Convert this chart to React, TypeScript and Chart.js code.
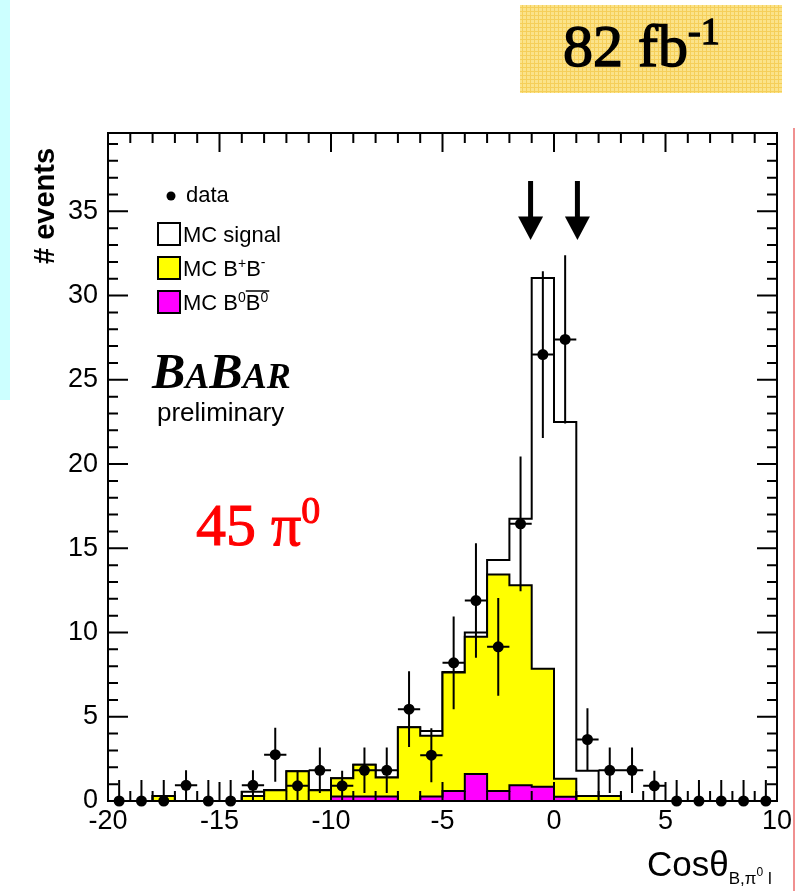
import React, { useEffect, useRef } from 'react';
import { Chart, registerables } from 'chart.js';

Chart.register(...registerables);

// ---- data ----
const binEdges = [-20, -19, -18, -17, -16, -15, -14, -13, -12, -11, -10, -9, -8, -7, -6, -5, -4, -3, -2, -1, 0, 1, 2, 3, 4, 5, 6, 7, 8, 9, 10];

// MC signal stacked on backgrounds (outline, white)
const mcTotal = [0, 0, 0.3, 0, 0, 0, 0.55, 0.66, 1.77, 0.66, 1.35, 2.15, 1.4, 4.38, 4.15, 7.65, 10.0, 14.3, 16.75, 31.05, 22.5, 1.8, 0.3, 0, 0, 0, 0, 0, 0, 0];
// MC B+B- stacked on B0B0bar (yellow)
const mcCharged = [0, 0, 0.3, 0, 0, 0, 0.3, 0.64, 1.77, 0.64, 1.35, 2.15, 1.4, 4.38, 3.87, 7.62, 9.75, 13.45, 12.8, 7.85, 1.32, 0.29, 0.29, 0, 0, 0, 0, 0, 0, 0];
// MC B0B0bar (magenta)
const mcNeutral = [0, 0, 0, 0, 0, 0, 0, 0, 0, 0, 0.27, 0.27, 0.27, 0, 0.27, 0.6, 1.6, 0.6, 0.93, 0.85, 0.25, 0, 0, 0, 0, 0, 0, 0, 0, 0];

const dataX = [-19.5, -18.5, -17.5, -16.5, -15.5, -14.5, -13.5, -12.5, -11.5, -10.5, -9.5, -8.5, -7.5, -6.5, -5.5, -4.5, -3.5, -2.5, -1.5, -0.5, 0.5, 1.5, 2.5, 3.5, 4.5, 5.5, 6.5, 7.5, 8.5, 9.5];
const dataY = [0, 0, 0, 0.93, 0, 0, 0.93, 2.75, 0.9, 1.82, 0.9, 1.82, 1.82, 5.45, 2.72, 8.2, 11.9, 9.15, 16.45, 26.5, 27.4, 3.65, 1.82, 1.82, 0.9, 0, 0, 0, 0, 0];
const dataErrUp = [1.25, 1.25, 1.25, 0.9, 1.25, 1.25, 0.9, 1.6, 0.9, 1.35, 0.9, 1.35, 1.35, 2.25, 1.6, 2.75, 3.4, 2.9, 4.0, 4.95, 5.0, 1.85, 1.35, 1.35, 0.9, 1.25, 1.25, 1.25, 1.25, 1.25];
const dataErrDown = [0, 0, 0, 0.9, 0, 0, 0.9, 1.6, 0.9, 1.35, 0.9, 1.35, 1.35, 2.25, 1.6, 2.75, 3.4, 2.9, 4.0, 4.95, 5.0, 1.85, 1.35, 1.35, 0.9, 0, 0, 0, 0, 0];
const dataXErr = 0.5;

const xTicks = [-20, -15, -10, -5, 0, 5, 10];
const yTicks = [0, 5, 10, 15, 20, 25, 30, 35];
const xMin = -20;
const xMax = 10;
const yMin = 0;
const yMax = 39.65;

const arrowX = [-1.05, 1.05];
const arrowTop = 36.8;
const arrowHeadBase = 34.7;
const arrowTip = 33.3;

const SANS = '"Liberation Sans", Arial, Helvetica, sans-serif';
const SERIF = '"Liberation Serif", "Times New Roman", serif';

function stepPoints(vals: number[]) {
  const pts: { x: number; y: number }[] = [{ x: binEdges[0], y: 0 }];
  vals.forEach((v, i) => pts.push({ x: binEdges[i], y: v }));
  pts.push({ x: binEdges[binEdges.length - 1], y: vals[vals.length - 1] });
  pts.push({ x: binEdges[binEdges.length - 1], y: 0 });
  return pts;
}

function drawRich(ctx: CanvasRenderingContext2D, x: number, y: number, parts: { t: string; size: number; dy?: number }[], family: string, weight = '', strokeW = 0) {
  let cx = x;
  for (const p of parts) {
    ctx.font = `${weight} ${p.size}px ${family}`.trim();
    ctx.fillText(p.t, cx, y + (p.dy || 0));
    if (strokeW > 0) {
      ctx.save();
      ctx.lineWidth = strokeW;
      ctx.strokeStyle = ctx.fillStyle as string;
      ctx.strokeText(p.t, cx, y + (p.dy || 0));
      ctx.restore();
    }
    cx += ctx.measureText(p.t).width;
  }
  return cx;
}

const decor = {
  id: 'decor',
  beforeDraw(chart: any) {
    const ctx: CanvasRenderingContext2D = chart.ctx;
    ctx.save();
    ctx.fillStyle = '#ffffff';
    ctx.fillRect(0, 0, chart.width, chart.height);
    // cyan strip on the left
    ctx.fillStyle = '#ccffff';
    ctx.fillRect(0, 0, 10, 400);
    // faint red line at right
    ctx.strokeStyle = '#f09090';
    ctx.lineWidth = 2;
    ctx.beginPath();
    ctx.moveTo(794, 128);
    ctx.lineTo(794, 891);
    ctx.stroke();
    // luminosity box
    const bx = 520, by = 5, bw = 262, bh = 88;
    ctx.fillStyle = '#fbe38a';
    ctx.fillRect(bx, by, bw, bh);
    ctx.strokeStyle = '#f5cf5a';
    ctx.lineWidth = 1;
    ctx.beginPath();
    for (let gx = bx + 2; gx < bx + bw; gx += 4) {
      ctx.moveTo(gx + 0.5, by);
      ctx.lineTo(gx + 0.5, by + bh);
    }
    for (let gy = by + 2; gy < by + bh; gy += 4) {
      ctx.moveTo(bx, gy + 0.5);
      ctx.lineTo(bx + bw, gy + 0.5);
    }
    ctx.stroke();
    ctx.fillStyle = '#000';
    ctx.textBaseline = 'alphabetic';
    ctx.textAlign = 'left';
    drawRich(ctx, 563, 66, [
      { t: '82 fb', size: 60 },
      { t: '-1', size: 38, dy: -22 },
    ], SERIF, '', 1.4);
    ctx.restore();
  },
  afterDatasetsDraw(chart: any) {
    const ctx: CanvasRenderingContext2D = chart.ctx;
    const xs = chart.scales.x;
    const ys = chart.scales.y;
    ctx.save();
    ctx.strokeStyle = '#000';
    ctx.lineWidth = 2;
    ctx.beginPath();
    for (let i = 0; i < dataX.length; i++) {
      const px = xs.getPixelForValue(dataX[i]);
      const py = ys.getPixelForValue(dataY[i]);
      ctx.moveTo(px, ys.getPixelForValue(dataY[i] - dataErrDown[i]));
      ctx.lineTo(px, ys.getPixelForValue(dataY[i] + dataErrUp[i]));
      ctx.moveTo(xs.getPixelForValue(dataX[i] - dataXErr), py);
      ctx.lineTo(xs.getPixelForValue(dataX[i] + dataXErr), py);
    }
    ctx.stroke();
    ctx.restore();
  },
  afterDraw(chart: any) {
    const ctx: CanvasRenderingContext2D = chart.ctx;
    const xs = chart.scales.x;
    const ys = chart.scales.y;
    const { left, right, top, bottom } = chart.chartArea;
    ctx.save();
    ctx.strokeStyle = '#000';
    ctx.fillStyle = '#000';
    ctx.lineWidth = 2;
    ctx.strokeRect(left, top, right - left, bottom - top);
    ctx.beginPath();
    for (let v = xMin; v <= xMax; v++) {
      const px = xs.getPixelForValue(v);
      const len = v % 5 === 0 ? 19 : 10;
      ctx.moveTo(px, bottom);
      ctx.lineTo(px, bottom - len);
      ctx.moveTo(px, top);
      ctx.lineTo(px, top + len);
    }
    for (let v = 0; v <= Math.floor(yMax); v++) {
      const py = ys.getPixelForValue(v);
      const len = v % 5 === 0 ? 20 : 10;
      ctx.moveTo(left, py);
      ctx.lineTo(left + len, py);
      ctx.moveTo(right, py);
      ctx.lineTo(right - len, py);
    }
    ctx.stroke();

    // arrows
    for (const ax of arrowX) {
      const px = xs.getPixelForValue(ax);
      ctx.lineWidth = 5;
      ctx.beginPath();
      ctx.moveTo(px, ys.getPixelForValue(arrowTop));
      ctx.lineTo(px, ys.getPixelForValue(arrowHeadBase) + 2);
      ctx.stroke();
      ctx.beginPath();
      ctx.moveTo(px - 12.5, ys.getPixelForValue(arrowHeadBase));
      ctx.lineTo(px + 12.5, ys.getPixelForValue(arrowHeadBase));
      ctx.lineTo(px, ys.getPixelForValue(arrowTip));
      ctx.closePath();
      ctx.fill();
    }

    // legend
    ctx.textBaseline = 'middle';
    ctx.textAlign = 'left';
    ctx.beginPath();
    ctx.arc(171, 196, 4.5, 0, Math.PI * 2);
    ctx.fill();
    ctx.font = `22px ${SANS}`;
    ctx.fillText('data', 186, 196);
    const boxes = [
      { y: 223, fill: '#ffffff' },
      { y: 257, fill: '#ffff00' },
      { y: 291, fill: '#ff00ff' },
    ];
    ctx.lineWidth = 2;
    for (const b of boxes) {
      ctx.fillStyle = b.fill;
      ctx.fillRect(158, b.y, 22, 22);
      ctx.strokeRect(158, b.y, 22, 22);
    }
    ctx.fillStyle = '#000';
    ctx.textBaseline = 'alphabetic';
    drawRich(ctx, 183, 242, [{ t: 'MC signal', size: 22 }], SANS);
    drawRich(ctx, 183, 276, [
      { t: 'MC B', size: 22 },
      { t: '+', size: 14, dy: -8 },
      { t: 'B', size: 22 },
      { t: '-', size: 14, dy: -9 },
    ], SANS);
    const bx = drawRich(ctx, 183, 310, [
      { t: 'MC B', size: 22 },
      { t: '0', size: 14, dy: -8 },
    ], SANS);
    const ex = drawRich(ctx, bx, 310, [
      { t: 'B', size: 22 },
      { t: '0', size: 14, dy: -8 },
    ], SANS);
    ctx.lineWidth = 1.5;
    ctx.beginPath();
    ctx.moveTo(bx, 291);
    ctx.lineTo(ex + 1, 291);
    ctx.stroke();

    // BaBar logo
    drawRich(ctx, 152, 388, [
      { t: 'B', size: 50 },
      { t: 'A', size: 36 },
      { t: 'B', size: 50 },
      { t: 'A', size: 36 },
      { t: 'R', size: 36 },
    ], SERIF, 'italic bold');
    ctx.font = `26px ${SANS}`;
    ctx.fillText('preliminary', 157, 421);

    // 45 pi0
    ctx.fillStyle = '#ff0000';
    drawRich(ctx, 196, 545, [
      { t: '45 π', size: 60 },
      { t: '0', size: 38, dy: -22 },
    ], SERIF, '', 1);

    // y title
    ctx.fillStyle = '#000';
    ctx.save();
    ctx.translate(54, 264);
    ctx.rotate(-Math.PI / 2);
    ctx.font = `bold 29px ${SANS}`;
    ctx.fillText('# events', 0, 0);
    ctx.restore();

    // x title
    drawRich(ctx, 647, 876, [
      { t: 'Cosθ', size: 35 },
      { t: 'B,π', size: 17, dy: 8 },
      { t: '0', size: 12, dy: 0 },
      { t: ' l', size: 17, dy: 8 },
    ], SANS);
    ctx.restore();
  },
};

export default function App() {
  const ref = useRef<HTMLCanvasElement>(null);
  useEffect(() => {
    const canvas = ref.current!;
    const chart = new Chart(canvas, {
      type: 'line',
      data: {
        datasets: [
          {
            type: 'scatter',
            label: 'data',
            data: dataX.map((x, i) => ({ x, y: dataY[i] })),
            pointRadius: 5.5,
            pointBackgroundColor: '#000',
            pointBorderWidth: 0,
            showLine: false,
            clip: false,
            order: 0,
          } as any,
          {
            label: 'MC B0B0',
            data: stepPoints(mcNeutral),
            stepped: 'before',
            borderColor: '#000',
            borderWidth: 2,
            backgroundColor: '#ff00ff',
            fill: 'origin',
            pointRadius: 0,
            order: 1,
          },
          {
            label: 'MC B+B-',
            data: stepPoints(mcCharged),
            stepped: 'before',
            borderColor: '#000',
            borderWidth: 2,
            backgroundColor: '#ffff00',
            fill: 'origin',
            pointRadius: 0,
            order: 2,
          },
          {
            label: 'MC signal',
            data: stepPoints(mcTotal),
            stepped: 'before',
            borderColor: '#000',
            borderWidth: 2,
            backgroundColor: '#ffffff',
            fill: 'origin',
            pointRadius: 0,
            order: 3,
          },
        ],
      },
      options: {
        animation: false,
        responsive: false,
        devicePixelRatio: 1,
        layout: { padding: { left: 58, top: 133, right: 22, bottom: 0 } },
        plugins: { legend: { display: false }, tooltip: { enabled: false } },
        scales: {
          x: {
            type: 'linear',
            min: xMin,
            max: xMax,
            grid: { display: false, drawTicks: false },
            border: { display: false },
            afterBuildTicks: (s: any) => { s.ticks = xTicks.map((v) => ({ value: v })); },
            afterFit: (s: any) => { s.height = 90; },
            ticks: {
              color: '#000',
              font: { family: SANS, size: 27 },
              padding: 4,
              maxRotation: 0,
              autoSkip: false,
            },
          },
          y: {
            type: 'linear',
            min: yMin,
            max: yMax,
            grid: { display: false, drawTicks: false },
            border: { display: false },
            afterBuildTicks: (s: any) => { s.ticks = yTicks.map((v) => ({ value: v })); },
            afterFit: (s: any) => { s.width = 50; },
            ticks: {
              color: '#000',
              font: { family: SANS, size: 27 },
              padding: 10,
              autoSkip: false,
            },
          },
        },
      },
      plugins: [decor],
    } as any);
    return () => chart.destroy();
  }, []);
  return (
    <div style={{ position: 'absolute', left: 0, top: 0, width: 799, height: 891, background: '#fff' }}>
      <canvas ref={ref} width={799} height={891} style={{ display: 'block' }} />
    </div>
  );
}
